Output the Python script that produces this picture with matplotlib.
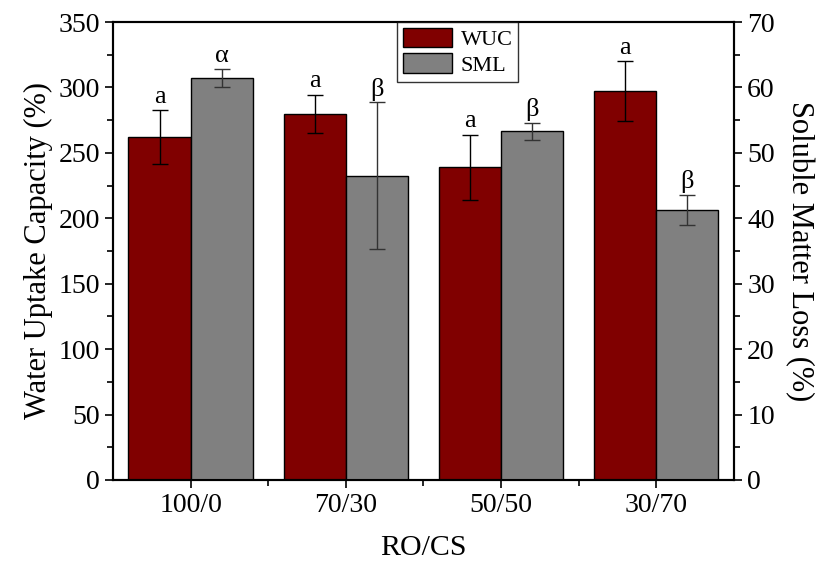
import numpy as np
import matplotlib.pyplot as plt
from matplotlib.ticker import MultipleLocator

plt.rcParams['font.family'] = ['Liberation Serif', 'DejaVu Serif']

# 数据
groups = ['100/0', '70/30', '50/50', '30/70']
wuc = [262, 280, 239, 297]
wuc_err = [20.5, 14.5, 25, 23]
sml = [61.4, 46.5, 53.3, 41.2]
sml_err = [1.4, 11.2, 1.3, 2.3]
wuc_marks = ['a', 'a', 'a', 'a']
sml_marks = ['α', 'β', 'β', 'β']

x = np.arange(1, len(groups) + 1)
w = 0.4

fig = plt.figure(figsize=(8.21, 5.70), dpi=100)
ax1 = fig.add_axes([0.1376, 0.158, 0.7564, 0.8034])
ax2 = ax1.twinx()

b1 = ax1.bar(x - w / 2, wuc, w, color='#800000', edgecolor='black', linewidth=1,
             yerr=wuc_err, error_kw=dict(ecolor='black', elinewidth=1, capsize=6, capthick=1),
             label='WUC', zorder=2)
b2 = ax2.bar(x + w / 2, sml, w, color='#808080', edgecolor='black', linewidth=1,
             yerr=sml_err, error_kw=dict(ecolor='#333333', elinewidth=1, capsize=6, capthick=1),
             label='SML', zorder=2)

# 显著性字母
for i in range(len(groups)):
    ax1.text(x[i] - w / 2, wuc[i] + wuc_err[i] + 2, wuc_marks[i], ha='center', va='bottom', fontsize=19)
    ax2.text(x[i] + w / 2, sml[i] + sml_err[i] + 0.3, sml_marks[i], ha='center', va='bottom', fontsize=19)

ax1.set_xlim(0.5, 4.5)
ax1.set_ylim(0, 350)
ax2.set_ylim(0, 70)
ax1.set_xticks(x)
ax1.set_xticklabels(groups)
ax1.xaxis.set_minor_locator(plt.FixedLocator([1.5, 2.5, 3.5]))
ax1.yaxis.set_major_locator(MultipleLocator(50))
ax1.yaxis.set_minor_locator(MultipleLocator(25))
ax2.yaxis.set_major_locator(MultipleLocator(10))
ax2.yaxis.set_minor_locator(MultipleLocator(5))

for a in (ax1, ax2):
    a.tick_params(which='major', direction='out', length=6, width=1.2, labelsize=20)
    a.tick_params(which='minor', direction='out', length=4, width=1.2)
    for s in a.spines.values():
        s.set_linewidth(1.5)

ax1.set_xlabel('RO/CS', fontsize=21.5, labelpad=12)
ax1.set_ylabel('Water Uptake Capacity (%)', fontsize=22, labelpad=4)
ax2.set_ylabel('Soluble Matter Loss (%)', fontsize=22, rotation=270, labelpad=28)

leg = fig.legend(handles=[b1, b2], labels=['WUC', 'SML'], loc='upper center',
                 bbox_to_anchor=(0.5575, 0.9614), fontsize=16, frameon=True, fancybox=False,
                 handlelength=2.2, handleheight=1.0, borderpad=0.25, labelspacing=0.15,
                 handletextpad=0.4, borderaxespad=0)
leg.get_frame().set_edgecolor('black')
leg.get_frame().set_linewidth(1)

fig.savefig('out.png', dpi=100)
